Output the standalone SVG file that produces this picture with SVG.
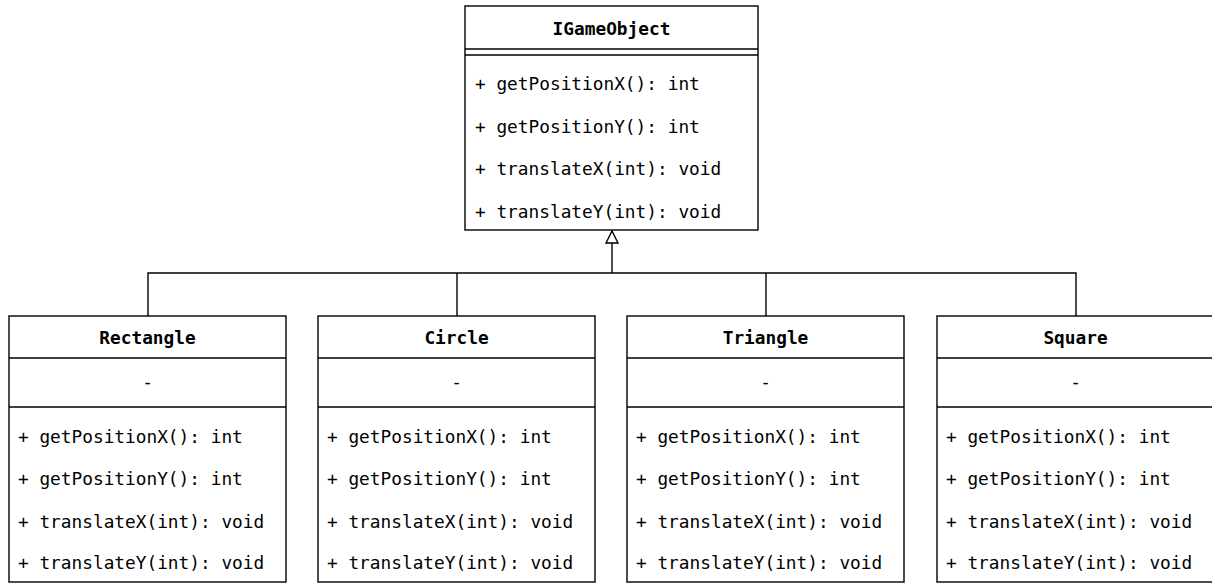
<svg xmlns="http://www.w3.org/2000/svg" width="1212" height="584" viewBox="0 0 1212 584">
  <style>
    .box { fill: #ffffff; stroke: #000000; stroke-width: 1.4; }
    .sep { stroke: #000000; stroke-width: 1.4; fill: none; }
    .title { font-family: "DejaVu Sans Mono", "Liberation Mono", monospace; font-size: 17.8px; font-weight: bold; fill: #000000; text-anchor: middle; }
    .member { font-family: "DejaVu Sans Mono", "Liberation Mono", monospace; font-size: 17.8px; fill: #000000; }
    .attr { font-family: "DejaVu Sans Mono", "Liberation Mono", monospace; font-size: 17.8px; fill: #000000; text-anchor: middle; }
    .edge { stroke: #000000; stroke-width: 1.4; fill: none; }
  </style>
  <defs>
    <marker id="inherit" viewBox="0 0 14 14" refX="13" refY="7" markerWidth="14" markerHeight="14" markerUnits="userSpaceOnUse" orient="auto">
      <path d="M1,1 L13,7 L1,13 Z" fill="#ffffff" stroke="#000000" stroke-width="1.4"/>
    </marker>
  </defs>

  <rect width="1212" height="584" fill="#ffffff"/>

  <!-- generalization connectors -->
  <g id="connectors">
    <path class="edge" d="M148,316 V273 H1076 V316"/>
    <path class="edge" d="M457,316 V273"/>
    <path class="edge" d="M766,316 V273"/>
    <path class="edge" d="M612,273 V231" marker-end="url(#inherit)"/>
  </g>

  <!-- interface -->
  <g id="IGameObject">
    <rect class="box" x="465" y="6" width="293" height="224"/>
    <line class="sep" x1="465" y1="49" x2="758" y2="49"/>
    <line class="sep" x1="465" y1="55" x2="758" y2="55"/>
    <text class="title" x="611.5" y="35">IGameObject</text>
    <text class="member" x="475" y="90">+ getPositionX(): int</text>
    <text class="member" x="475" y="133">+ getPositionY(): int</text>
    <text class="member" x="475" y="175">+ translateX(int): void</text>
    <text class="member" x="475" y="218">+ translateY(int): void</text>
  </g>

  <!-- implementations -->
  <g id="Rectangle">
    <rect class="box" x="9" y="316" width="277" height="266"/>
    <line class="sep" x1="9" y1="358" x2="286" y2="358"/>
    <line class="sep" x1="9" y1="407" x2="286" y2="407"/>
    <text class="title" x="147.5" y="344">Rectangle</text>
    <text class="attr" x="147.5" y="388">-</text>
    <text class="member" x="18" y="443">+ getPositionX(): int</text>
    <text class="member" x="18" y="485">+ getPositionY(): int</text>
    <text class="member" x="18" y="528">+ translateX(int): void</text>
    <text class="member" x="18" y="569">+ translateY(int): void</text>
  </g>

  <g id="Circle">
    <rect class="box" x="318" y="316" width="277" height="266"/>
    <line class="sep" x1="318" y1="358" x2="595" y2="358"/>
    <line class="sep" x1="318" y1="407" x2="595" y2="407"/>
    <text class="title" x="456.5" y="344">Circle</text>
    <text class="attr" x="456.5" y="388">-</text>
    <text class="member" x="327" y="443">+ getPositionX(): int</text>
    <text class="member" x="327" y="485">+ getPositionY(): int</text>
    <text class="member" x="327" y="528">+ translateX(int): void</text>
    <text class="member" x="327" y="569">+ translateY(int): void</text>
  </g>

  <g id="Triangle">
    <rect class="box" x="627" y="316" width="277" height="266"/>
    <line class="sep" x1="627" y1="358" x2="904" y2="358"/>
    <line class="sep" x1="627" y1="407" x2="904" y2="407"/>
    <text class="title" x="765.5" y="344">Triangle</text>
    <text class="attr" x="765.5" y="388">-</text>
    <text class="member" x="636" y="443">+ getPositionX(): int</text>
    <text class="member" x="636" y="485">+ getPositionY(): int</text>
    <text class="member" x="636" y="528">+ translateX(int): void</text>
    <text class="member" x="636" y="569">+ translateY(int): void</text>
  </g>

  <g id="Square">
    <rect class="box" x="937" y="316" width="277" height="266"/>
    <line class="sep" x1="937" y1="358" x2="1214" y2="358"/>
    <line class="sep" x1="937" y1="407" x2="1214" y2="407"/>
    <text class="title" x="1075.5" y="344">Square</text>
    <text class="attr" x="1075.5" y="388">-</text>
    <text class="member" x="946" y="443">+ getPositionX(): int</text>
    <text class="member" x="946" y="485">+ getPositionY(): int</text>
    <text class="member" x="946" y="528">+ translateX(int): void</text>
    <text class="member" x="946" y="569">+ translateY(int): void</text>
  </g>
</svg>
